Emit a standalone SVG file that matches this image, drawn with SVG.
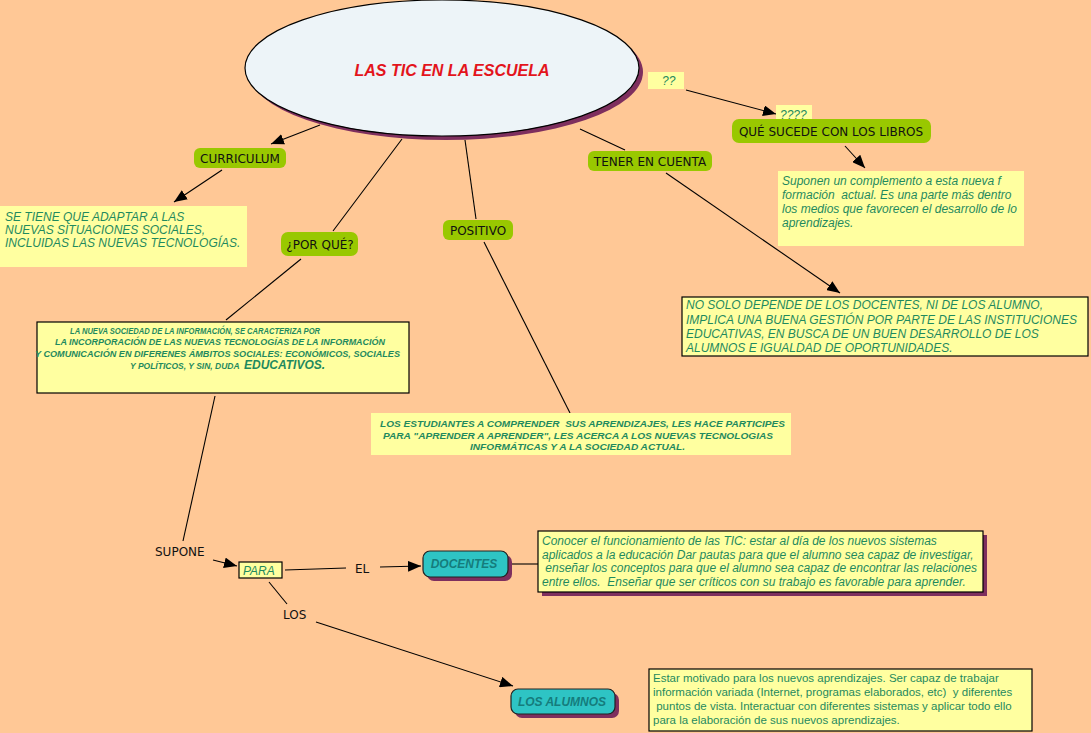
<svg xmlns="http://www.w3.org/2000/svg" width="1091" height="733" viewBox="0 0 1091 733" xml:space="preserve">
<defs>
<marker id="ah" viewBox="0 0 12 10" refX="12" refY="5" markerWidth="13" markerHeight="11" markerUnits="userSpaceOnUse" orient="auto">
<path d="M0,0 L12,5 L0,10 z" fill="#000"/>
</marker>
<style>
text{white-space:pre}
.bg{fill:#FFC896}
.g{fill:#99C800}
.nt{font-family:"DejaVu Sans",Verdana,sans-serif;font-size:12px;fill:#111}
.y{fill:#FFFFA0}
.yb{fill:#FFFFA0;stroke:#000;stroke-width:1.2}
.sh{fill:#7E2F5E}
.it{font-family:"Liberation Sans",Arial,sans-serif;font-style:italic;font-size:12px;fill:#1F8A5E}
.rg{font-family:"Liberation Sans",Arial,sans-serif;font-size:11.5px;fill:#1F8A5E}
.bi{font-family:"Liberation Sans",Arial,sans-serif;font-style:italic;font-weight:bold;fill:#1F8A5E}
.c{stroke:#000;stroke-width:1.1;fill:none}
.teal{fill:#2EC4C4;stroke:#222;stroke-width:1.2}
.tt{font-family:"Liberation Sans",Arial,sans-serif;font-style:italic;font-weight:bold;font-size:12px;fill:#157C7C}
</style>
</defs>
<rect class="bg" x="0" y="0" width="1091" height="733"/>
<g id="q2"><rect class="y" x="648" y="72" width="36" height="17"/><text class="it" x="662" y="85" font-size="11">??</text></g>
<g id="connectors">
<line class="c" x1="686" y1="90" x2="776" y2="114" marker-end="url(#ah)"/>
<line class="c" x1="845" y1="146" x2="865" y2="168" marker-end="url(#ah)"/>
<line class="c" x1="320" y1="125" x2="271" y2="144" marker-end="url(#ah)"/>
<line class="c" x1="222" y1="170" x2="174" y2="202" marker-end="url(#ah)"/>
<line class="c" x1="402" y1="139" x2="333" y2="231"/>
<line class="c" x1="301" y1="259" x2="226" y2="320"/>
<line class="c" x1="465" y1="140" x2="476" y2="219"/>
<line class="c" x1="484" y1="242" x2="570" y2="413"/>
<line class="c" x1="580" y1="129" x2="625" y2="150"/>
<line class="c" x1="666" y1="173" x2="840" y2="293" marker-end="url(#ah)"/>
<line class="c" x1="215" y1="396" x2="183" y2="541"/>
<line class="c" x1="213" y1="560" x2="237" y2="566" marker-end="url(#ah)"/>
<line class="c" x1="285" y1="570" x2="346" y2="568"/>
<line class="c" x1="380" y1="567" x2="421" y2="566" marker-end="url(#ah)"/>
<line class="c" x1="512" y1="564" x2="539" y2="564"/>
<line class="c" x1="269" y1="582" x2="287" y2="604"/>
<line class="c" x1="316" y1="622" x2="513" y2="686" marker-end="url(#ah)"/>
</g>
<g id="main">
<ellipse class="sh" cx="446" cy="72" rx="197" ry="68"/>
<ellipse cx="442" cy="68" rx="197" ry="68" fill="#EDF4F8" stroke="#000" stroke-width="1.2"/>
<text x="452" y="76" text-anchor="middle" font-family="Liberation Sans,Arial,sans-serif" font-size="16" font-weight="bold" font-style="italic" fill="#E3141C">LAS TIC EN LA ESCUELA</text>
</g>
<g id="q4"><rect class="y" x="776" y="105" width="36" height="17"/><text class="it" x="780" y="119" font-size="11">????</text></g>
<g id="libros"><rect class="g" x="732" y="119" width="199" height="24" rx="7"/><text class="nt" x="831" y="136" text-anchor="middle">QUÉ SUCEDE CON LOS LIBROS</text></g>
<g id="suponen">
<rect class="y" x="778" y="171" width="246" height="75"/>
<text class="it" x="782" y="185" font-size="11.5">Suponen un complemento a esta nueva f</text>
<text class="it" x="782" y="199" font-size="11.5">formación  actual. Es una parte más dentro</text>
<text class="it" x="782" y="213" font-size="11.5">los medios que favorecen el desarrollo de lo</text>
<text class="it" x="782" y="227" font-size="11.5">aprendizajes.</text>
</g>
<g id="curriculum"><rect class="g" x="194" y="148" width="92" height="20" rx="6"/><text class="nt" x="240" y="163" text-anchor="middle">CURRICULUM</text></g>
<g id="setiene">
<rect class="y" x="0" y="206" width="247" height="61"/>
<text class="it" x="5" y="221">SE TIENE QUE ADAPTAR A LAS</text>
<text class="it" x="5" y="234">NUEVAS SITUACIONES SOCIALES,</text>
<text class="it" x="5" y="247">INCLUIDAS LAS NUEVAS TECNOLOGÍAS.</text>
</g>
<g id="porque"><rect class="g" x="281" y="232" width="77" height="24" rx="7"/><text class="nt" x="320" y="249" text-anchor="middle">¿POR QUÉ?</text></g>
<g id="positivo"><rect class="g" x="443" y="220" width="70" height="20" rx="6"/><text class="nt" x="478" y="235" text-anchor="middle">POSITIVO</text></g>
<g id="tener"><rect class="g" x="588" y="151" width="124" height="20" rx="6"/><text class="nt" x="650" y="166" text-anchor="middle">TENER EN CUENTA</text></g>
<g id="nueva">
<rect class="yb" x="37" y="322" width="372" height="71"/>
<text class="bi" x="70" y="334" font-size="8.5" textLength="250" lengthAdjust="spacingAndGlyphs">LA NUEVA SOCIEDAD DE LA INFORMACIÓN, SE CARACTERIZA POR</text>
<text class="bi" x="55" y="345" font-size="8.5" textLength="330" lengthAdjust="spacingAndGlyphs">LA INCORPORACIÓN DE LAS NUEVAS TECNOLOGÍAS DE LA INFORMACIÓN</text>
<text class="bi" x="35" y="357" font-size="8.5" textLength="365" lengthAdjust="spacingAndGlyphs">Y COMUNICACIÓN EN DIFERENES ÁMBITOS SOCIALES: ECONÓMICOS, SOCIALES</text>
<text class="bi" x="130" y="369" font-size="8.5">Y POLÍTICOS, Y SIN, DUDA  <tspan font-size="12">EDUCATIVOS.</tspan></text>
</g>
<g id="estudiantes">
<rect class="y" x="371" y="413" width="420" height="42"/>
<text class="bi" x="380" y="427" font-size="9.5" textLength="405" lengthAdjust="spacingAndGlyphs">LOS ESTUDIANTES A COMPRENDER  SUS APRENDIZAJES, LES HACE PARTICIPES</text>
<text class="bi" x="383" y="439" font-size="9.5" textLength="390" lengthAdjust="spacingAndGlyphs">PARA "APRENDER A APRENDER", LES ACERCA A LOS NUEVAS TECNOLOGIAS</text>
<text class="bi" x="470" y="450" font-size="9.5" textLength="215" lengthAdjust="spacingAndGlyphs">INFORMÁTICAS Y A LA SOCIEDAD ACTUAL.</text>
</g>
<g id="nosolo">
<rect class="yb" x="682" y="297" width="406" height="59"/>
<text class="it" x="686" y="309">NO SOLO DEPENDE DE LOS DOCENTES, NI DE LOS ALUMNO,</text>
<text class="it" x="686" y="324">IMPLICA UNA BUENA GESTIÓN POR PARTE DE LAS INSTITUCIONES</text>
<text class="it" x="686" y="338">EDUCATIVAS, EN BUSCA DE UN BUEN DESARROLLO DE LOS</text>
<text class="it" x="686" y="352">ALUMNOS E IGUALDAD DE OPORTUNIDADES.</text>
</g>
<g id="supone"><text class="nt" x="155" y="556">SUPONE</text></g>
<g id="para"><rect class="yb" x="239" y="562" width="43" height="16"/><text class="it" x="243" y="575">PARA</text></g>
<g id="el"><text class="nt" x="355" y="573">EL</text></g>
<g id="docentes">
<rect class="sh" x="427" y="555" width="85" height="26" rx="7"/>
<rect class="teal" x="423" y="551" width="85" height="26" rx="7"/>
<text class="tt" x="464" y="568" text-anchor="middle">DOCENTES</text>
</g>
<g id="conocer">
<rect class="sh" x="542" y="535" width="445" height="61"/>
<rect class="yb" x="538" y="531" width="445" height="61"/>
<text class="it" x="542" y="545" font-size="11.5">Conocer el funcionamiento de las TIC: estar al día de los nuevos sistemas</text>
<text class="it" x="542" y="559" font-size="11.5">aplicados a la educación Dar pautas para que el alumno sea capaz de investigar,</text>
<text class="it" x="542" y="572" font-size="11.5"> enseñar los conceptos para que el alumno sea capaz de encontrar las relaciones</text>
<text class="it" x="542" y="586" font-size="11.5">entre ellos.  Enseñar que ser críticos con su trabajo es favorable para aprender.</text>
</g>
<g id="los"><text class="nt" x="283" y="619">LOS</text></g>
<g id="alumnos">
<rect class="sh" x="515" y="693" width="104" height="25" rx="7"/>
<rect class="teal" x="511" y="689" width="104" height="25" rx="7"/>
<text class="tt" x="562" y="706" text-anchor="middle">LOS ALUMNOS</text>
</g>
<g id="estar">
<rect class="yb" x="649" y="669" width="383" height="62"/>
<text class="rg" x="653" y="682">Estar motivado para los nuevos aprendizajes. Ser capaz de trabajar</text>
<text class="rg" x="653" y="696">información variada (Internet, programas elaborados, etc)  y diferentes</text>
<text class="rg" x="653" y="710"> puntos de vista. Interactuar con diferentes sistemas y aplicar todo ello</text>
<text class="rg" x="653" y="724">para la elaboración de sus nuevos aprendizajes.</text>
</g>
</svg>
